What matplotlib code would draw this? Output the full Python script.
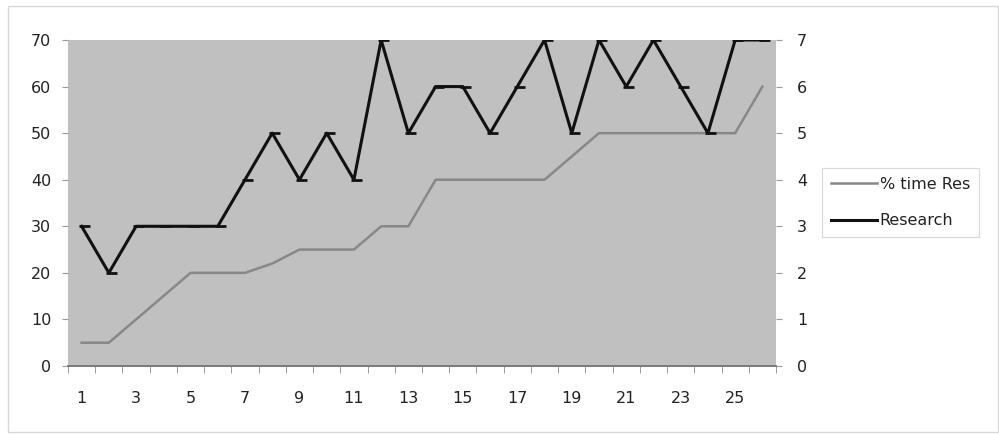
import matplotlib.pyplot as plt
from matplotlib.patches import Rectangle
from matplotlib.path import Path

periods = list(range(1, 27))
pct_time_research = [5, 5, 10, 15, 20, 20, 20, 22, 25, 25, 25, 30, 30,
                     40, 40, 40, 40, 40, 45, 50, 50, 50, 50, 50, 50, 60]
research = [3, 2, 3, 3, 3, 3, 4, 5, 4, 5, 4, 7, 5,
            6, 6, 5, 6, 7, 5, 7, 6, 7, 6, 5, 7, 7]
left_ticks = list(range(0, 71, 10))
right_ticks = list(range(0, 8))
x_labels = list(range(1, 26, 2))

plt.rcParams["font.family"] = ["DejaVu Sans"]

W, H = 999, 434
fig = plt.figure(figsize=(W / 100, H / 100), dpi=100)
fig.patch.set_facecolor("white")
fig.patches.append(Rectangle((8 / W, 2 / H), 990 / W, 426 / H,
                             transform=fig.transFigure, fill=False,
                             edgecolor="#d8d8d8", lw=1.0))

ax = fig.add_axes([68 / W, 1 - 366 / H, 708 / W, 326 / H])
ax.set_facecolor("#c0c0c0")
ax2 = ax.twinx()

# dash marker that sits mostly to the right of the point
dash = Path([(-0.35, 0.0), (1.0, 0.0)], [Path.MOVETO, Path.LINETO])

g, = ax.plot(periods, pct_time_research, color="#888888", lw=1.8,
             label="% time Res", zorder=3)
b, = ax2.plot(periods, research, color="#111111", lw=2.2,
              marker=dash, markersize=11.5, mew=2.0, label="Research",
              zorder=4)

ax.set_xlim(0.5, 26.5)
ax.set_ylim(0, 70)
ax2.set_ylim(0, 7)
ax.set_yticks(left_ticks)
ax2.set_yticks(right_ticks)
ax.set_xticks(x_labels)
ax.set_xticks([p + 0.5 for p in range(0, 27)], minor=True)

for a in (ax, ax2):
    for side in ("top", "left", "right"):
        a.spines[side].set_visible(False)
    a.spines["bottom"].set_color("#7a7a7a")
    a.spines["bottom"].set_linewidth(1.2)

ax.tick_params(axis="x", which="major", length=0, pad=18,
               labelsize=11.5, labelcolor="#222222")
ax.tick_params(axis="x", which="minor", length=5, color="#8a8a8a",
               direction="out")
ax.tick_params(axis="y", length=4, color="#9a9a9a", pad=8,
               labelsize=11.5, labelcolor="#222222")
ax2.tick_params(axis="y", length=4, color="#9a9a9a", pad=11,
                labelsize=11.5, labelcolor="#222222")

leg = fig.legend(handles=[g, b], loc="upper left",
                 bbox_to_anchor=(822 / W, 1 - 168 / H),
                 frameon=True, fancybox=False, fontsize=11.5,
                 handlelength=2.9, handletextpad=0.15, borderpad=0.55,
                 labelspacing=1.35, borderaxespad=0)
leg.get_frame().set_edgecolor("#cfcfcf")
leg.get_frame().set_linewidth(0.8)
for t in leg.get_texts():
    t.set_color("#222222")
leg.get_lines()[1].set_marker("")

fig.savefig("out.png", dpi=100)
